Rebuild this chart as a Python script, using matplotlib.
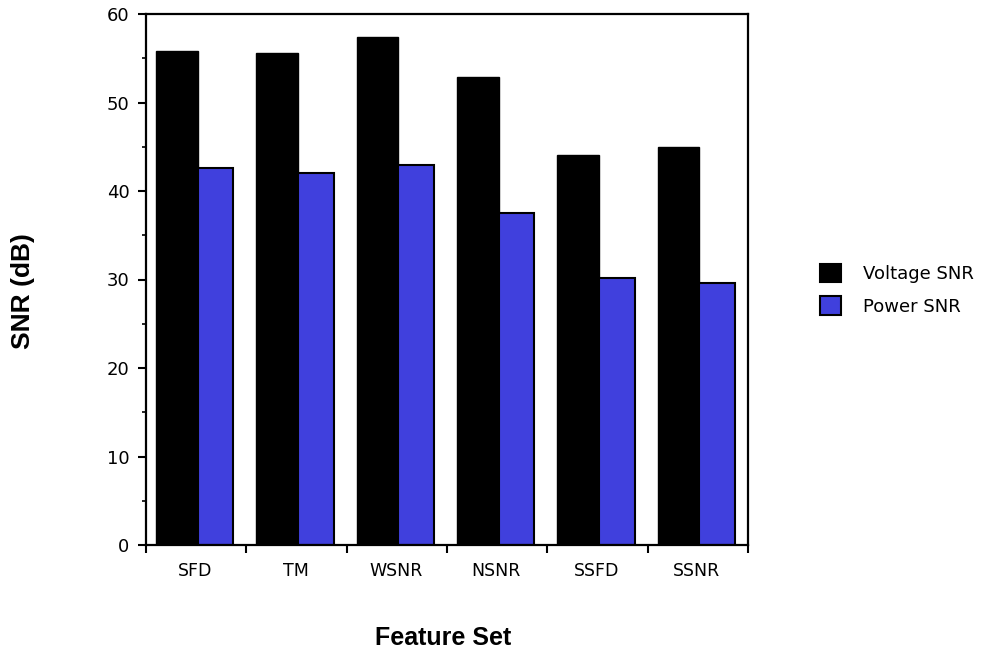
import matplotlib
matplotlib.use("Agg")
import matplotlib.pyplot as plt
import numpy as np
from matplotlib.patches import Patch

categories = ["SFD", "TM", "WSNR", "NSNR", "SSFD", "SSNR"]
voltage_snr = [55.85, 55.6, 57.4, 52.9, 44.1, 45.0]
power_snr = [42.6, 42.0, 42.9, 37.5, 30.2, 29.6]

W, H = 985, 654
fig = plt.figure(figsize=(W / 100, H / 100), dpi=100)
ax = fig.add_axes([146 / W, 1 - 545 / H, (748 - 146) / W, (545 - 14) / H])

x = np.arange(len(categories))
blue = "#4040dd"
ax.bar(x + 0.10, voltage_snr, width=0.415, align="edge", color="black",
       edgecolor="black", linewidth=1.0, label="Voltage SNR", zorder=2)
ax.bar(x + 0.515, power_snr, width=0.357, align="edge", color=blue,
       edgecolor="black", linewidth=1.5, label="Power SNR", zorder=2)

ax.set_xlim(0, len(categories))
ax.set_ylim(0, 60)
ax.set_xticks(np.arange(len(categories) + 1))
ax.set_xticklabels([])
ax.set_xticks(x + 0.49, minor=True)
ax.set_xticklabels(categories, minor=True)
ax.tick_params(axis="x", which="minor", length=0, pad=12, labelsize=12.5)
ax.tick_params(axis="x", which="major", length=6, width=1.5, direction="out")
ax.set_yticks(np.arange(0, 61, 10))
ax.set_yticks(np.arange(5, 60, 10), minor=True)
ax.tick_params(axis="y", which="major", length=6, width=1.5, labelsize=13, pad=6)
ax.tick_params(axis="y", which="minor", length=3, width=1.2)

for s in ax.spines.values():
    s.set_linewidth(1.6)

for lbl in ax.get_xticklabels(minor=True) + ax.get_yticklabels():
    lbl.set_fontfamily("DejaVu Sans")

fig.text(23 / W, 1 - 291 / H, "SNR (dB)", rotation=90, ha="center", va="center",
         fontsize=19, fontweight="bold", family="Liberation Sans")
fig.text(443 / W, 1 - 638 / H, "Feature Set", ha="center", va="center",
         fontsize=18, fontweight="bold", family="Liberation Sans")

handles = [Patch(facecolor="black", edgecolor="black", linewidth=1.5),
           Patch(facecolor=blue, edgecolor="black", linewidth=1.5)]
leg = fig.legend(handles, ["Voltage SNR", "Power SNR"], loc="center left",
                 bbox_to_anchor=(804 / W, 1 - 290 / H), frameon=False,
                 handlelength=1.17, handleheight=1.17,
                 handletextpad=1.2, labelspacing=0.72,
                 prop={"family": "DejaVu Sans", "size": 13})

fig.savefig("out.png", dpi=100)
